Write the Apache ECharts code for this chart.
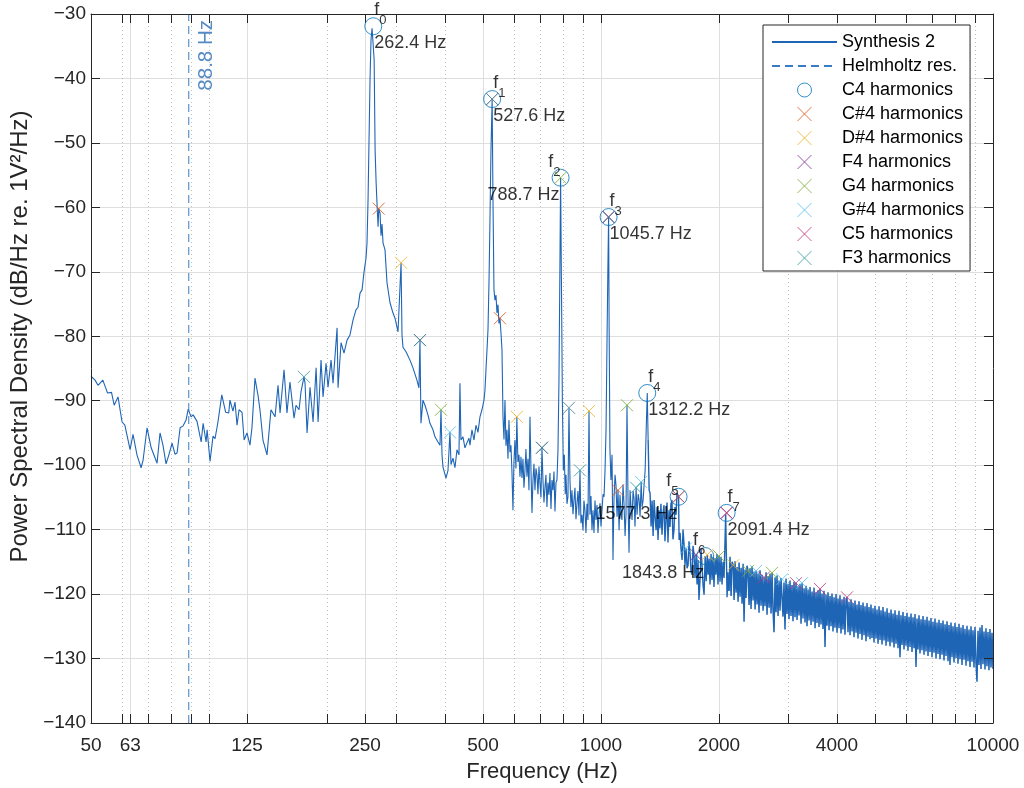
<!DOCTYPE html>
<html>
<head>
<meta charset="utf-8">
<title>Power Spectral Density - Synthesis 2</title>
<script src="https://cdn.jsdelivr.net/npm/echarts@6/dist/echarts.min.js"></script>
<style>
  html, body { margin: 0; padding: 0; background: #fff; }
  #chart { width: 1024px; height: 788px; }
</style>
</head>
<body>
<div id="chart"></div>
<script>
// spectrum, [frequency (Hz), PSD (dB/Hz)]
const psdMain = [
  [50,-86.2],[51.2,-86.8],[52.1,-87.6],[53.6,-86.8],[54.5,-88.0],[55.1,-88.8],[56.4,-88.7],[57.3,-90.7],[58.6,-89.4],
  [60.0,-93.3],[61.0,-93.8],[62.9,-97.6],[64.0,-95.2],[65.5,-98.4],[67.1,-100.4],[67.9,-99.2],[69.5,-94.2],[71.2,-97.3],
  [72.0,-97.6],[73.7,-99.7],[75.0,-95.0],[76.3,-96.9],[77.7,-99.8],[79.0,-98.4],[80.5,-96.6],[81.9,-98.3],[82.9,-98.1],
  [84.4,-94.2],[85.9,-93.9],[87.4,-93.0],[88.5,-91.3],[90.0,-92.5],[91.1,-92.2],[93.2,-93.2],[95.5,-96.4],[96.6,-93.5],
  [98.3,-96.4],[98.9,-94.5],[100.6,-99.4],[102.4,-95.5],[103.6,-95.9],[105.4,-93.3],[107.8,-89.1],[110.3,-91.8],[112.3,-91.9],
  [113.1,-89.9],[115.1,-91.6],[116.5,-90.2],[117.9,-93.8],[119.3,-91.4],[121.4,-91.8],[122.9,-96.1],[125.0,-95.0],[127.2,-96.9],
  [128.7,-94.2],[131.0,-86.5],[133.3,-89.1],[134.9,-91.4],[137.3,-96.1],[140.6,-98.4],[143.9,-91.4],[147.4,-92.5],[150.0,-87.6],
  [151.8,-91.9],[155.4,-85.2],[158.1,-91.9],[160.9,-87.1],[164.8,-92.7],[166.7,-90.7],[169.7,-91.4],[171.7,-88.6],[174.7,-86.3],
  [175.8,-87.3],[177.9,-95.0],[181.0,-87.9],[184.3,-93.3],[187.6,-84.9],[189.8,-93.3],[193.1,-83.7],[195.4,-89.4],[198.9,-84.2],
  [201.2,-87.9],[204.8,-83.7],[207.2,-87.3],[212.2,-78.7],[213.4,-88.0],[217.2,-81.0],[221.0,-82.6],[225.0,-80.6],[228.9,-79.8],
  [233.0,-77.5],[237.1,-75.9],[240.0,-75.5],[242.8,-73.3],[245.7,-72.8],[248.6,-70.0],[251.5,-67.9],[253.0,-65.5],[254.5,-58.9],
  [256.0,-49.5],[257.5,-40.2],[259.0,-34.0],[260.6,-32.2],[262.4,-31.9],[263.8,-37.1],[265.3,-51.1],[266.9,-56.2],[268.5,-59.9],
  [270.0,-63.0],[271,-60.2],[273.1,-60.9],[274.7,-64.4],[276.3,-62.6],[277.9,-65.5],[281.2,-66.6],[284.5,-71.7],[289.6,-74.8],
  [294.7,-76.4],[298.2,-77.2],[301.7,-77.5],[303.5,-79.3],[305.3,-79.5],[309,-68.6],[310.7,-79.8],[312.5,-81.7],[318.1,-82.4],
  [325.6,-83.7],[331.4,-84.9],[339.2,-86.8],[343.2,-88.0],[345.3,-80.6],[347.3,-93.5],[351.4,-89.9],[355.6,-90.7],[361.9,-92.2],
  [366.2,-93.5],[372.7,-94.5],[377.1,-95.6],[383.8,-96.4],[388.4,-96.9],[390.7,-91.4],[393.0,-98.4],[395.3,-100.3],[402.3,-102.0],
  [407.1,-100.8],[411.8,-94.9],[414.3,-99.9],[419.2,-98.9],[424.1,-100.4],[429.1,-97.6],[434.2,-98.4],[436.7,-87.3],[439.3,-96.1],
  [444.5,-95.6],[449.7,-97.3],[455.0,-97.6],[460.4,-95.8],[463.2,-96.9],[468.6,-94.5],[474.2,-96.1],[479.8,-93.8],[485.5,-94.9],
  [491.2,-92.5],[497.0,-91.4],[502.9,-89.9],[505.9,-88.3],[508.8,-85.2],[511.9,-82.1],[514.9,-79.0],[517.9,-71.7],[520.9,-62.0],
  [524.0,-51.1],[527.6,-43.2],[530.2,-58.9],[533.3,-72.8],[536.4,-74.4],[539.6,-73.6],[542.8,-76.4],[546.0,-75.1],[549.2,-78.0],
  [552.4,-77.2],[555.7,-79.5],[559.0,-82.1],[562.3,-92.5],[565.6,-96.0],[568.9,-89.9],[572.2,-97.0],[575.6,-94.5],[579.0,-99.0],
  [582.4,-93.0],[585.8,-98.0],[589.2,-96.9],[592.7,-101.0],[596.2,-107.0],[599.7,-99.5],[603.2,-96.1],[606.7,-100.5],[610,-92.5],
  [613.9,-99.5],[617.6,-98.4],[621.3,-101.8],[625.0,-98.7],[628.6,-102.0],[632.3,-99.0],[636.0,-103.5],[639.8,-100.8],[643.5,-97.5],
  [647.3,-101.8],[651.2,-99.0],[655.0,-103.9],[658.9,-92.5],[662.8,-100.8],[666.7,-107.4],[670.6,-102.3],[674.5,-99.8],[678.5,-103.9],
  [682.5,-100.5],[686.5,-101.5],[690.6,-104.5],[694.6,-100.2],[698.7,-102.8],[702.8,-105.0],[707,-97.3],[711.1,-102.3],[715.3,-105.8],
  [719.5,-103.5],[723.7,-101.5],[728.0,-106.5],[732.3,-102.7],[736.6,-104.6],[740.9,-101.2],[745.4,-106.8],[749.8,-102.3],[754.2,-103.9],
  [758.6,-101.0],[763.1,-107.2],[767.6,-102.7],[772.1,-102.3],[776.7,-97.6],[781.2,-86.8],[785.8,-68.2],[788.7,-55.4],[792.5,-71.3],
  [797.0,-89.9],[801.5,-100.8],[806.2,-98.4],[810.5,-104.5],[814.0,-101.5],[818.8,-106.0],[823.6,-104.9],[828.5,-91.1],[833.4,-102.3],
  [838.3,-106.5],[843.2,-103.9],[848.2,-107.6],[853.2,-105.4],[858.2,-103.5],[863.3,-108.4],[868.4,-105.9],[873.5,-104.0],[878.6,-107.8],
  [883.8,-100.8],[889.0,-109.0],[894.2,-107.7],[899.5,-110.1],[904.8,-105.5],[910.1,-107.0],[915.5,-110.5],[920.9,-106.0],[926.3,-108.5],
  [932,-91.6],[937.3,-107.7],[942.8,-104.8],[948.4,-110.1],[954.0,-107.0],[959.6,-110.5],[965.3,-105.5],[971.0,-108.5],[976.7,-106.2],
  [982.4,-110.5],[988.2,-107.7],[994.1,-105.9],[1000,-109.5],[1006,-107.0],[1012,-104.5],[1018,-104.9],[1024,-100.8],[1030,-94.5],
  [1036,-80.6],[1041,-70.0],[1045.7,-61.5],[1049,-79.0],[1054,-97.6],[1060,-102.3],[1067,-98.4],[1073,-114.7],[1079,-105.4],
  [1086,-101.5],[1092,-103.1],[1099,-108.0],[1105,-103.9],[1112,-110.1],[1118,-104.6],[1125,-107.5],[1131,-108.5],[1138,-103.0],
  [1145,-106.2],[1152,-111.0],[1158,-107.7],[1165,-90.7],[1172,-105.4],[1179,-113.6],[1186,-103.9],[1193,-106.5],[1200,-108.5],
  [1207,-104.0],[1214,-105.1],[1221,-109.5],[1229,-103.5],[1236,-107.7],[1244,-104.5],[1251,-105.4],[1258,-108.0],[1266,-102.6],
  [1273,-106.5],[1281,-105.4],[1288,-103.0],[1296,-100.8],[1304,-94.5],[1312.2,-88.8],[1319,-96.1]
];
// 1.3 - 2.1 kHz, where the trace gets dense
const psdMid = [
  [1319,-96.1],[1327,-103.9],[1334,-104.3],
  [1342,-109.5],[1350,-105.5],[1358,-111.0],[1366,-105.4],[1374,-108.0],[1382,-110.1],[1390,-106.5],[1398,-111.6],[1406,-107.0],
  [1414,-109.8],[1422,-106.0],[1431,-110.8],[1439,-107.5],[1448,-106.2],[1456,-111.8],[1465,-108.5],[1474,-105.8],[1482,-112.0],
  [1491,-107.0],[1500,-109.6],[1508,-106.0],[1517,-105.4],[1526,-111.5],[1535,-110.1],[1544,-106.5],[1554,-107.7],[1563,-104.3],
  [1577.3,-104.9],[1582,-111.6],[1591,-110.5],[1600,-113.0],[1610,-114.7],[1619,-110.0],[1629,-112.4],[1638,-115.5],[1648,-112.9],
  [1658,-116.0],[1668,-115.5],[1677,-111.8],[1687,-113.6],[1697,-116.5],[1707,-117.0],[1717,-112.5],[1727,-113.9],[1737,-117.5],
  [1748,-113.9],[1758,-118.5],[1768,-114.7],[1778,-120.9],[1789,-117.8],[1799,-113.0],[1810,-115.5],[1821,-118.6],[1832,-120.1],
  [1843.8,-114.1],[1855,-118.0],[1866,-113.9],[1876,-117.0],[1887,-114.5],[1897,-118.5],[1909,-113.8],[1920,-117.8],[1931,-114.2],
  [1942,-118.9],[1954,-114.4],[1965,-117.0],[1977,-113.8],[1988,-118.5],[2000,-114.1],[2012,-118.1],[2024,-114.2],[2036,-118.5],
  [2048,-115.0],[2060,-117.5],[2072,-111.6],[2080,-107.6],[2091.4,-107.4],[2097,-120.5],[2109,-116.6],[2121,-119.5]
];
// the dense noise floor above ~2 kHz
const psdBand = [
  [2121,-119.5],[2134,-114.2],[2147,-120.3],[2159,-115.0],[2175,-115.5],[2185,-120.9],[2198,-114.9],[2211,-119.8],[2224,-115.8],
  [2237,-121.2],[2250,-115.1],[2263,-120.4],[2277,-115.9],[2290,-121.5],[2304,-115.3],[2317,-124.3],[2331,-116.2],[2344,-120.6],
  [2358,-115.6],[2372,-116.4],[2386,-121.7],[2400,-116.0],[2414,-122.3],[2428,-115.7],[2443,-121.0],[2457,-116.5],[2472,-122.4],
  [2486,-116.4],[2501,-121.6],[2515,-116.8],[2530,-122.9],[2545,-116.3],[2560,-121.8],[2575,-117.0],[2591,-122.6],[2606,-117.4],
  [2621,-121.9],[2637,-116.6],[2652,-123.2],[2668,-117.2],[2684,-122.1],[2699,-116.8],[2715,-123.0],[2731,-116.7],[2747,-122.5],
  [2763,-125.9],[2780,-117.4],[2796,-122.8],[2812,-117.1],[2829,-123.4],[2846,-117.9],[2862,-122.6],[2879,-117.5],[2896,-117.7],
  [2913,-123.5],[2930,-118.2],[2947,-125.5],[2965,-117.6],[2982,-123.1],[3000,-118.4],[3017,-123.9],[3035,-117.9],[3053,-123.4],
  [3071,-118.6],[3089,-124.2],[3107,-118.1],[3126,-123.6],[3144,-118.3],[3163,-124.0],[3181,-118.8],[3200,-123.3],[3219,-118.4],
  [3238,-124.6],[3257,-118.3],[3276,-123.8],[3296,-119.1],[3315,-124.4],[3335,-118.7],[3354,-125.0],[3374,-119.3],[3394,-124.1],
  [3414,-118.9],[3434,-124.8],[3454,-119.6],[3475,-124.3],[3495,-119.0],[3516,-125.3],[3536,-119.7],[3557,-124.5],[3578,-119.4],
  [3599,-125.1],[3620,-119.2],[3641,-124.7],[3663,-119.9],[3684,-125.4],[3706,-119.5],[3728,-128.2],[3750,-120.1],[3772,-124.9],
  [3794,-119.7],[3817,-125.6],[3839,-120.3],[3862,-125.0],[3884,-119.9],[3907,-125.8],[3930,-120.5],[3953,-125.2],[3977,-120.0],
  [4000,-126.0],[4024,-120.7],[4047,-125.3],[4071,-120.2],[4095,-126.1],[4119,-120.8],[4143,-125.5],[4168,-120.4],[4192,-126.3],
  [4217,-121.0],[4242,-120.5],[4267,-125.9],[4292,-121.2],[4318,-126.4],[4343,-120.8],[4369,-125.8],[4394,-121.4],[4420,-126.7],
  [4446,-121.0],[4473,-126.0],[4499,-121.6],[4525,-126.9],[4552,-121.1],[4579,-126.2],[4606,-121.7],[4633,-127.1],[4660,-121.3],
  [4688,-126.4],[4715,-121.9],[4743,-127.3],[4771,-121.4],[4799,-126.6],[4827,-122.0],[4856,-127.0],[4884,-121.6],[4913,-126.8],
  [4942,-122.2],[4971,-127.5],[5000,-121.8],[5030,-126.9],[5060,-122.4],[5090,-127.7],[5120,-121.9],[5150,-127.1],[5180,-122.5],
  [5211,-127.8],[5241,-122.0],[5272,-127.2],[5303,-122.7],[5335,-128.0],[5366,-122.2],[5398,-127.4],[5430,-122.9],[5461,-128.1],
  [5494,-122.4],[5526,-127.5],[5558,-123.0],[5591,-128.3],[5624,-122.5],[5657,-127.7],[5690,-123.2],[5724,-128.4],[5757,-122.6],
  [5791,-129.8],[5825,-123.3],[5860,-127.9],[5894,-122.8],[5929,-128.6],[5964,-123.4],[5999,-128.0],[6034,-122.9],[6070,-128.8],
  [6106,-123.5],[6142,-128.2],[6178,-123.0],[6214,-129.0],[6251,-123.6],[6288,-128.4],[6325,-123.1],[6362,-131.3],[6400,-123.8],
  [6437,-128.6],[6475,-123.3],[6513,-129.2],[6552,-123.9],[6590,-128.7],[6629,-123.4],[6668,-129.4],[6707,-124.0],[6747,-128.9],
  [6787,-123.5],[6827,-129.6],[6867,-124.1],[6907,-129.0],[6948,-123.7],[6989,-129.8],[7030,-124.3],[7072,-129.1],[7113,-123.8],
  [7155,-130.0],[7197,-124.4],[7240,-129.3],[7282,-124.0],[7325,-130.1],[7368,-124.5],[7412,-129.4],[7455,-124.1],[7499,-130.3],
  [7544,-124.7],[7588,-129.6],[7633,-124.2],[7678,-130.4],[7723,-124.8],[7768,-131.0],[7814,-124.4],[7860,-129.8],[7906,-125.0],
  [7953,-130.6],[8000,-124.5],[8047,-129.9],[8094,-125.1],[8142,-130.8],[8190,-124.6],[8238,-130.1],[8287,-125.2],[8336,-131.0],
  [8385,-124.8],[8434,-130.2],[8484,-125.4],[8534,-131.1],[8584,-124.9],[8635,-130.4],[8686,-125.5],[8737,-131.3],[8788,-125.0],
  [8840,-130.5],[8892,-125.6],[8944,-131.4],[8997,-125.1],[9050,-130.7],[9103,-133.6],[9157,-125.7],[9211,-131.0],[9265,-125.2],
  [9319,-131.6],[9374,-124.8],[9429,-130.9],[9485,-125.8],[9541,-131.7],[9597,-125.3],[9653,-131.2],[9710,-125.9],[9767,-131.8],
  [9825,-125.4],[9883,-131.4],[9941,-126.0],[10000,-131.6]
];

const helmholtzFreq = 88.8;

// C4 partials f0..f7
const c4Freq = [262.4, 527.6, 788.7, 1045.7, 1312.2, 1577.3, 1843.8, 2091.4];
const c4Psd = [-31.9, -43.2, -55.4, -61.5, -88.8, -104.9, -114.1, -107.4];

// harmonic markers of the other notes, [Hz, dB]
const cs4Harm = [[271, -60.2], [552.4, -77.2], [828.5, -91.1], [1105, -103.9]];
const ds4Harm = [[309, -68.6], [610, -92.5], [932, -91.6], [1866, -113.9], [2175, -115.5]];
const f4Harm = [[345.3, -80.6], [707, -97.3], [1045.7, -61.5], [1748, -113.9], [2091.4, -107.4]];
const g4Harm = [[390.7, -91.4], [788.7, -55.4], [1165, -90.7], [1577.3, -104.9], [2000, -114.1], [2372, -116.4], [2731, -116.7]];
const gs4Harm = [[411.8, -94.9], [828.5, -91.1], [1266, -102.6], [1648, -112.9], [2486, -116.4], [2896, -117.7], [3257, -118.3]];
const c5Harm = [[527.6, -43.2], [1045.7, -61.5], [1577.3, -104.9], [2091.4, -107.4], [2606, -117.4], [3144, -118.3], [3620, -119.2], [4242, -120.5]];
const f3Harm = [[174.7, -86.3], [345.3, -80.6], [527.6, -43.2], [707, -97.3], [883.8, -100.8], [1045.7, -61.5], [1229, -103.5]];

// axis ticks (Hz)
const tickLabels = [50, 63, 125, 250, 500, 1000, 2000, 4000, 10000];
const majorTicks = [63, 125, 250, 500, 1000, 2000, 4000];
const minorTicks = [60, 70, 80, 90, 100, 200, 300, 400, 600, 700, 800, 900, 3000, 5000, 6000, 7000, 8000, 9000];
const yMin = -140, yMax = -30;

// peaks whose labels sit on the left of the marker
const labelLeft = [false, false, true, false, false, true, true, false];

const FONT = "'Liberation Sans', Arial, Helvetica, sans-serif";
const INK = '#262626';
const LINE_BLUE = '#1f65b6';
const X_SYMBOL = 'path://M0,0L10,10M10,0L0,10';
const NO_MARK = { color: 'rgba(0,0,0,0)', borderWidth: 0 };

const lg = v => Math.log10(v);
const fMin = lg(50), fMax = lg(10000);

function harmSeries(name, color, pts) {
  return {
    name, type: 'scatter', xAxisIndex: 0, yAxisIndex: 0, clip: false,
    symbol: X_SYMBOL, symbolSize: 12, z: 4,
    itemStyle: { color: 'rgba(0,0,0,0)', borderColor: color, borderWidth: 1 },
    data: pts
  };
}

function psdSeries(data, width) {
  return {
    name: 'Synthesis 2', type: 'line', xAxisIndex: 0, yAxisIndex: 0, symbol: 'none', z: 2,
    lineStyle: { color: LINE_BLUE, width }, itemStyle: { color: LINE_BLUE },
    data
  };
}

const chart = echarts.init(document.getElementById('chart'), null, { renderer: 'canvas' });

const option = {
  animation: false,
  backgroundColor: '#fff',
  textStyle: { fontFamily: FONT },
  grid: { left: 91, right: 31, top: 14, bottom: 65, containLabel: false, outerBoundsMode: 'none' },
  legend: {
    orient: 'vertical', left: 763, top: 25,
    padding: [8, 6, 4, 8], itemGap: 6, itemWidth: 65, itemHeight: 14,
    backgroundColor: '#fff', borderColor: INK, borderWidth: 1, borderRadius: 0,
    selectedMode: false,
    textStyle: { fontSize: 18, color: '#000', fontFamily: FONT },
    itemStyle: { borderWidth: 1 },
    data: [
      { name: 'Synthesis 2', itemStyle: NO_MARK },
      { name: 'Helmholtz res.', itemStyle: NO_MARK },
      'C4 harmonics', 'C#4 harmonics', 'D#4 harmonics', 'F4 harmonics',
      'G4 harmonics', 'G#4 harmonics', 'C5 harmonics', 'F3 harmonics'
    ]
  },
  xAxis: [
    // data axis
    { type: 'log', logBase: 10, min: 50, max: 10000, show: false },
    // major ticks, labels, solid grid
    {
      type: 'value', min: fMin, max: fMax, position: 'bottom', z: 0,
      axisLine: { show: false, onZero: false },
      axisTick: { show: true, inside: true, length: 9, customValues: majorTicks.map(lg), lineStyle: { color: INK } },
      axisLabel: {
        customValues: tickLabels.map(lg), margin: 13, fontSize: 19, color: INK, fontFamily: FONT,
        formatter: v => String(Math.round(Math.pow(10, v)))
      },
      splitLine: { show: true, lineStyle: { color: '#dedede', width: 1 } },
      name: 'Frequency (Hz)', nameLocation: 'middle', nameGap: 38,
      nameTextStyle: { fontSize: 22, color: INK, fontFamily: FONT }
    },
    // minor ticks, dotted grid
    {
      type: 'value', min: fMin, max: fMax, position: 'bottom', z: 0,
      axisLine: { show: false, onZero: false },
      axisTick: { show: true, inside: true, length: 9, customValues: minorTicks.map(lg), lineStyle: { color: INK } },
      axisLabel: { show: false },
      splitLine: { show: true, lineStyle: { color: '#bdbdbd', width: 1, type: [1, 3] } }
    },
    // top frame
    {
      type: 'value', min: fMin, max: fMax, position: 'top', z: 3,
      axisLine: { show: true, onZero: false, lineStyle: { color: INK } },
      axisTick: { show: true, inside: true, length: 9, customValues: majorTicks.concat(minorTicks).map(lg), lineStyle: { color: INK } },
      axisLabel: { show: false }, splitLine: { show: false }
    },
    // bottom frame
    {
      type: 'value', min: fMin, max: fMax, position: 'bottom', z: 3,
      axisLine: { show: true, onZero: false, lineStyle: { color: INK } },
      axisTick: { show: false }, axisLabel: { show: false }, splitLine: { show: false }
    }
  ],
  yAxis: [
    {
      type: 'value', min: yMin, max: yMax, interval: 10, position: 'left', z: 3,
      axisLine: { show: true, onZero: false, lineStyle: { color: INK } },
      axisTick: { show: true, inside: true, length: 9, lineStyle: { color: INK } },
      axisLabel: {
        margin: 5, fontSize: 19, color: INK, fontFamily: FONT,
        formatter: v => (v < 0 ? '\u2212' + Math.abs(v) : String(v))
      },
      splitLine: { show: false },
      name: 'Power Spectral Density (dB/Hz re. 1V²/Hz)', nameLocation: 'middle', nameGap: 59,
      nameTextStyle: { fontSize: 24, color: INK, fontFamily: FONT, padding: [0, 0, 0, 64] }
    },
    {
      type: 'value', min: yMin, max: yMax, interval: 10, position: 'left', z: 0,
      axisLine: { show: false, onZero: false }, axisTick: { show: false }, axisLabel: { show: false },
      splitLine: { show: true, showMinLine: false, showMaxLine: false, lineStyle: { color: '#dedede', width: 1 } }
    },
    {
      type: 'value', min: yMin, max: yMax, interval: 10, position: 'right', z: 3,
      axisLine: { show: true, onZero: false, lineStyle: { color: INK } },
      axisTick: { show: true, inside: true, length: 9, lineStyle: { color: INK } },
      axisLabel: { show: false }, splitLine: { show: false }
    }
  ],
  series: [
    psdSeries(psdMain, 1.1),
    psdSeries(psdMid, 1.4),
    psdSeries(psdBand, 1.5),
    {
      name: 'Helmholtz res.', type: 'line', xAxisIndex: 0, yAxisIndex: 0, symbol: 'none', z: 2,
      lineStyle: { color: '#3a7cc4', width: 1, type: [8, 5] }, itemStyle: { color: '#3a7cc4' },
      data: [[helmholtzFreq, yMin], [helmholtzFreq, yMax]]
    },
    {
      name: 'helmholtz text', type: 'scatter', xAxisIndex: 0, yAxisIndex: 0, silent: true, clip: false,
      symbolSize: 1, itemStyle: { color: 'rgba(0,0,0,0)' },
      data: [[helmholtzFreq, yMax]],
      label: {
        show: true, position: 'inside', rotate: 90, align: 'right', verticalAlign: 'middle',
        offset: [-6, 18], formatter: helmholtzFreq.toFixed(1) + ' Hz',
        fontSize: 20.5, color: '#2b6db5', fontFamily: FONT
      }
    },
    {
      name: 'C4 harmonics', type: 'scatter', xAxisIndex: 0, yAxisIndex: 0, clip: false, z: 4,
      symbol: 'circle', symbolSize: 17,
      itemStyle: { color: 'rgba(0,0,0,0)', borderColor: '#0072bd', borderWidth: 1 },
      label: {
        show: true, position: 'inside', verticalAlign: 'top', color: '#000', fontFamily: FONT,
        rich: {
          f: { fontSize: 18, lineHeight: 20, verticalAlign: 'top', color: '#000', fontFamily: FONT },
          s: { fontSize: 13, lineHeight: 15, padding: [13, 0, 0, 0], verticalAlign: 'top', color: '#000', fontFamily: FONT }
        }
      },
      data: c4Freq.map((f, i) => ({
        value: [f, c4Psd[i]],
        label: {
          align: labelLeft[i] ? 'right' : 'left',
          offset: [labelLeft[i] ? 0 : 1, -25],
          formatter: '{f|f}{s|' + i + '}'
        }
      }))
    },
    {
      name: 'peak text', type: 'scatter', xAxisIndex: 0, yAxisIndex: 0, silent: true, clip: false, z: 5,
      symbolSize: 1, itemStyle: { color: 'rgba(0,0,0,0)' },
      label: {
        show: true, position: 'inside', verticalAlign: 'middle',
        fontSize: 18, color: '#000', fontFamily: FONT,
        formatter: p => p.value[0].toFixed(1) + ' Hz'
      },
      data: c4Freq.map((f, i) => ({
        value: [f, c4Psd[i]],
        label: { align: labelLeft[i] ? 'right' : 'left', offset: [labelLeft[i] ? -1 : 1, 17] }
      }))
    },
    harmSeries('C#4 harmonics', '#d95319', cs4Harm),
    harmSeries('D#4 harmonics', '#edb120', ds4Harm),
    harmSeries('F4 harmonics', '#7e2f8e', f4Harm),
    harmSeries('G4 harmonics', '#77ac30', g4Harm),
    harmSeries('G#4 harmonics', '#4dbeee', gs4Harm),
    harmSeries('C5 harmonics', '#c0317a', c5Harm),
    harmSeries('F3 harmonics', '#2f9a9c', f3Harm)
  ]
};

chart.setOption(option);
</script>
</body>
</html>
